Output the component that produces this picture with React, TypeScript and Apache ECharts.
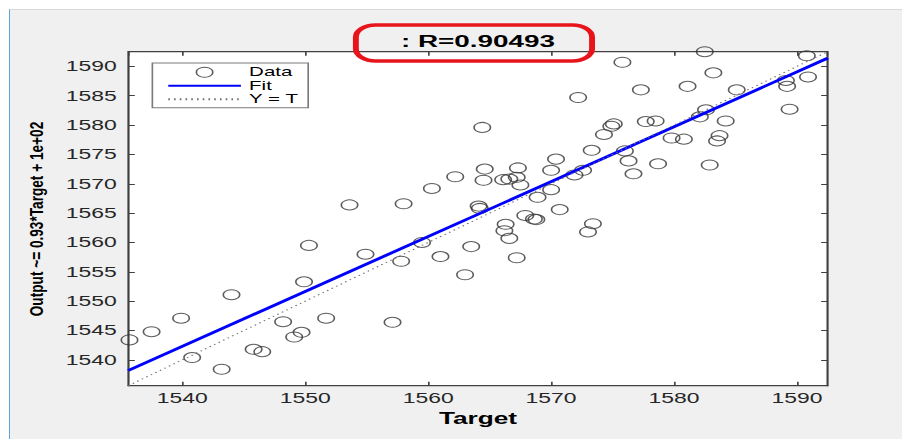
import React, { useEffect, useRef } from 'react';
import * as echarts from 'echarts';

// ---- data ----
const targetValues = [
  1535.7, 1537.5, 1539.9, 1540.8, 1543.2, 1544.0, 1545.8, 1546.5, 1548.2, 1549.1,
  1549.7, 1549.9, 1550.3, 1551.7, 1553.6, 1554.9, 1557.1, 1557.8, 1558.0, 1559.5,
  1561.0, 1560.3, 1562.2, 1563.0, 1563.5, 1564.1, 1564.2, 1564.4, 1564.6, 1564.5,
  1566.1, 1566.6, 1567.2, 1567.3, 1567.5, 1566.3, 1566.2, 1566.6, 1567.2, 1567.9,
  1568.6, 1568.8, 1568.9, 1570.0, 1570.0, 1570.4, 1570.7, 1571.9, 1572.6, 1572.2,
  1573.0, 1573.4, 1573.3, 1574.3, 1574.9, 1575.1, 1575.8, 1576.0, 1576.3, 1576.7,
  1577.3, 1577.7, 1578.5, 1578.7, 1579.8, 1580.8, 1581.1, 1582.1, 1582.6, 1582.5,
  1582.9, 1583.2, 1583.5, 1583.7, 1584.2, 1585.1, 1589.1, 1589.2, 1589.4, 1590.4,
  1590.8, 1590.9,
];
const outputValues = [
  1543.4, 1544.8, 1547.1, 1540.4, 1538.4, 1551.1, 1541.8, 1541.4, 1546.5, 1543.9,
  1544.7, 1553.3, 1559.5, 1547.1, 1566.4, 1558.0, 1546.4, 1556.8, 1566.6, 1560.0,
  1557.6, 1569.2, 1571.2, 1554.5, 1559.3, 1566.2, 1565.8, 1579.6, 1572.5, 1570.6,
  1570.7, 1570.8, 1571.1, 1572.7, 1569.8, 1563.1, 1562.0, 1560.7, 1557.4, 1564.6,
  1564.0, 1563.9, 1567.7, 1569.0, 1572.3, 1574.2, 1565.6, 1571.5, 1572.3, 1584.7,
  1561.8, 1563.2, 1575.7, 1578.4, 1579.8, 1580.2, 1590.7, 1575.6, 1573.9, 1571.7,
  1586.0, 1580.6, 1580.7, 1573.4, 1577.8, 1577.6, 1586.6, 1581.4, 1582.6, 1592.5,
  1573.2, 1588.9, 1577.3, 1578.2, 1580.7, 1586.0, 1587.6, 1586.6, 1582.7, 1592.6,
  1591.8, 1588.2,
];
const fitTargets = [1535.6, 1592.5];
const fitOutputs = [1538.2, 1591.4];
const identityValues = [1535.6, 1592.5];
const axisMin = 1535.6;
const axisMax = 1592.5;
const titleText = ': R=0.90493';
const xAxisLabel = 'Target';
const yAxisLabel = 'Output ~= 0.93*Target + 1e+02';
const legendNames = ['Data', 'Fit', 'Y = T'];

const FONT = '"Liberation Sans", Arial, Helvetica, sans-serif';
const INNER_W = 550;
const H = 439;
const STRETCH = 902 / INNER_W;

export default function App() {
  const ref = useRef<HTMLDivElement>(null);

  useEffect(() => {
    if (!ref.current) return;
    const chart = echarts.init(ref.current, null, { renderer: 'svg' });
    const axisColor = '#404040';
    const plainLabel = (v: number) => String(Math.round(v));
    const commonX = {
      type: 'value',
      min: axisMin,
      max: axisMax,
      splitNumber: 5,
      axisLine: { show: true, onZero: false, lineStyle: { color: axisColor, width: 1 } },
      axisTick: { show: true, inside: true, length: 4, lineStyle: { color: axisColor } },
      splitLine: { show: false },
    };
    const commonY = {
      type: 'value',
      min: axisMin,
      max: axisMax,
      splitNumber: 11,
      axisLine: { show: true, onZero: false, lineStyle: { color: axisColor, width: 1 } },
      axisTick: { show: true, inside: true, length: 4, lineStyle: { color: axisColor } },
      splitLine: { show: false },
    };
    chart.setOption({
      animation: false,
      textStyle: { fontFamily: FONT },
      grid: {
        left: 78.2,
        right: 45.3,
        top: 51.7,
        bottom: 53.3,
        show: true,
        backgroundColor: '#ffffff',
        borderColor: axisColor,
        borderWidth: 1,
      },
      xAxis: [
        {
          ...commonX,
          position: 'bottom',
          axisLabel: {
            show: true,
            color: '#262626',
            fontSize: 14,
            fontFamily: FONT,
            margin: 6,
            showMinLabel: false,
            showMaxLabel: false,
            formatter: plainLabel,
          },
          name: xAxisLabel,
          nameLocation: 'middle',
          nameGap: 23,
          nameTextStyle: { fontSize: 16, fontWeight: 'bold', color: '#000', fontFamily: FONT },
        },
        {
          ...commonX,
          position: 'top',
          axisLabel: { show: false },
        },
      ],
      yAxis: [
        {
          ...commonY,
          position: 'left',
          axisLabel: {
            show: true,
            color: '#262626',
            fontSize: 14,
            fontFamily: FONT,
            margin: 7,
            showMinLabel: false,
            showMaxLabel: false,
            formatter: plainLabel,
          },
        },
        {
          ...commonY,
          position: 'right',
          axisLabel: { show: false },
        },
      ],
      legend: {
        data: [
          {
            name: legendNames[0],
            icon: 'circle',
            itemStyle: { color: 'rgba(0,0,0,0)', borderColor: '#333333', borderWidth: 1 },
          },
          { name: legendNames[1], itemStyle: { opacity: 0 } },
          { name: legendNames[2], itemStyle: { opacity: 0 } },
        ],
        orient: 'vertical',
        left: 92.9,
        top: 63,
        itemWidth: 44.3,
        itemHeight: 10,
        itemGap: 0,
        padding: [2.5, 5.8, 1.7, 8.7],
        backgroundColor: '#ffffff',
        borderColor: '#7a7a7a',
        borderWidth: 1,
        borderRadius: 0,
        selectedMode: false,
        textStyle: { fontSize: 12.5, color: '#000', lineHeight: 13.5, fontFamily: FONT },
      },
      graphic: [
        {
          type: 'rect',
          z: 100,
          shape: { x: 217, y: 25, width: 144, height: 36, r: 12 },
          style: { fill: 'none', stroke: '#e8141c', lineWidth: 3.6 },
        },
        {
          type: 'text',
          z: 101,
          x: 291.45,
          y: 41,
          style: {
            text: titleText,
            fontSize: 17,
            fontWeight: 'bold',
            fontFamily: FONT,
            fill: '#000',
            align: 'center',
            verticalAlign: 'middle',
            textAlign: 'center',
            textVerticalAlign: 'middle',
          },
        },
        {
          type: 'text',
          z: 101,
          x: 22.5,
          y: 219,
          rotation: Math.PI / 2,
          scaleX: 1.24,
          style: {
            text: yAxisLabel,
            fontSize: 11,
            fontWeight: 'bold',
            fontFamily: FONT,
            fill: '#000',
            align: 'center',
            verticalAlign: 'middle',
            textAlign: 'center',
            textVerticalAlign: 'middle',
          },
        },
      ],
      series: [
        {
          name: legendNames[0],
          type: 'scatter',
          xAxisIndex: 0,
          yAxisIndex: 0,
          data: targetValues.map((t, i) => [t, outputValues[i]]),
          symbol: 'circle',
          symbolSize: 10,
          itemStyle: { color: 'rgba(0,0,0,0)', borderColor: '#333333', borderWidth: 1 },
          z: 2,
        },
        {
          name: legendNames[1],
          type: 'line',
          xAxisIndex: 0,
          yAxisIndex: 0,
          data: fitTargets.map((t, i) => [t, fitOutputs[i]]),
          symbol: 'none',
          showSymbol: false,
          lineStyle: { color: '#0000ff', width: 2.6 },
          itemStyle: { color: '#0000ff' },
          z: 3,
        },
        {
          name: legendNames[2],
          type: 'line',
          xAxisIndex: 0,
          yAxisIndex: 0,
          data: identityValues.map((v) => [v, v]),
          symbol: 'none',
          showSymbol: false,
          lineStyle: { color: '#707070', width: 1, type: [1, 2.5] },
          itemStyle: { color: '#707070' },
          z: 4,
        },
      ],
    });
    return () => chart.dispose();
  }, []);

  return (
    <div
      style={{
        position: 'absolute',
        left: 0,
        top: 0,
        width: 902,
        height: H,
        background: '#ffffff',
        overflow: 'hidden',
      }}
    >
      <div
        style={{
          position: 'absolute',
          left: 9,
          top: 9,
          right: 0,
          bottom: 0,
          background: '#f0f0f0',
          borderLeft: '1px solid #5fa6d6',
          borderTop: '1px solid #d8d8d8',
        }}
      />
      <div
        style={{
          position: 'absolute',
          left: 0,
          top: 0,
          width: INNER_W,
          height: H,
          transform: `scaleX(${STRETCH})`,
          transformOrigin: '0 0',
        }}
      >
        <div ref={ref} style={{ width: INNER_W, height: H }} />
      </div>
    </div>
  );
}
